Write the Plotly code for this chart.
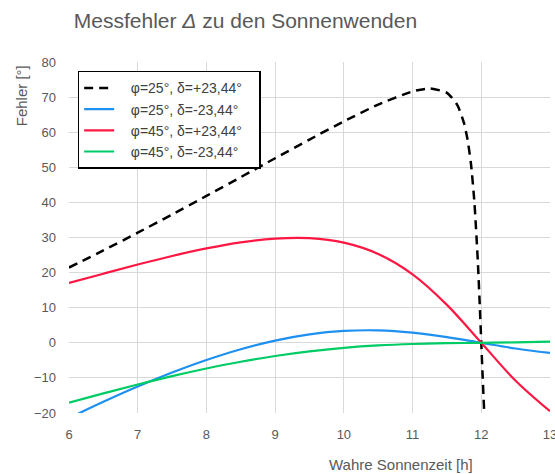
import plotly.graph_objects as go

# Time values [h]
t_main = [6, 6.5, 7, 7.5, 8, 8.5, 9, 9.5, 10, 10.5, 11, 11.5, 12, 12.5, 13]
t_dash = [6, 6.5, 7, 7.5, 8, 8.5, 9, 9.5, 10, 10.5, 11, 11.25, 11.5, 11.65, 11.75,
          11.8, 11.85, 11.9, 11.95, 11.98, 12, 12.02, 12.05]

# Series values [°]
phi25_dplus = [21.45, 26.31, 31.36, 36.55, 41.84, 47.20, 52.58, 57.91, 63.08, 67.87,
               71.62, 72.44, 71.21, 67.78, 62.49, 57.92, 50.96, 40.04, 23.07, 9.7,
               0, -9.7, -23.07]
phi25_dminus = [-21.45, -16.82, -12.47, -8.48, -4.90, -1.83, 0.63, 2.40, 3.38, 3.54,
                2.90, 1.63, 0, -1.63, -2.90]
phi45_dplus = [17.04, 19.69, 22.29, 24.73, 26.89, 28.62, 29.70, 29.82, 28.55, 25.32,
               19.51, 10.81, 0, -10.81, -19.51]
phi45_dminus = [-17.04, -14.42, -11.88, -9.49, -7.32, -5.39, -3.76, -2.44, -1.45, -0.76,
                -0.34, -0.12, 0, 0.12, 0.34]

names = ["φ=25°, δ=+23,44°", "φ=25°, δ=-23,44°", "φ=45°, δ=+23,44°", "φ=45°, δ=-23,44°"]
x_ticks = [6, 7, 8, 9, 10, 11, 12, 13]
y_ticks = [-20, -10, 0, 10, 20, 30, 40, 50, 60, 70, 80]

pad = "\u00a0\u00a0\u00a0"
fig = go.Figure()
fig.add_trace(go.Scatter(x=t_dash, y=phi25_dplus, mode="lines", name=pad + names[0] + pad,
                         line=dict(color="black", width=2.5, dash="9px,6px", shape="spline", smoothing=0.6)))
fig.add_trace(go.Scatter(x=t_main, y=phi25_dminus, mode="lines", name=pad + names[1] + pad,
                         line=dict(color="#1e90f0", width=2.2, shape="spline")))
fig.add_trace(go.Scatter(x=t_main, y=phi45_dplus, mode="lines", name=pad + names[2] + pad,
                         line=dict(color="#ff1744", width=2.2, shape="spline")))
fig.add_trace(go.Scatter(x=t_main, y=phi45_dminus, mode="lines", name=pad + names[3] + pad,
                         line=dict(color="#00cc66", width=2.2, shape="spline")))

grid = "#d9d9d9"
fig.update_layout(
    width=555, height=474,
    margin=dict(l=69, r=5, t=62, b=61),
    paper_bgcolor="white", plot_bgcolor="white",
    font=dict(family="Liberation Sans, Arial, sans-serif", color="#595959", size=13),
    title=dict(text="Messfehler <i>Δ</i> zu den Sonnenwenden", x=0.133, xanchor="left",
               y=0.957, yanchor="middle", font=dict(size=21, color="#595959")),
    showlegend=True,
    legend=dict(x=0.018, y=0.975, xanchor="left", yanchor="top",
                bordercolor="black", borderwidth=1.5, bgcolor="white",
                font=dict(size=14, color="#404040"), tracegroupgap=0),
    xaxis=dict(range=[6, 13], tickvals=x_ticks, showgrid=True, gridcolor=grid,
               zeroline=False, showline=False, ticks="", tickfont=dict(size=13),
               ticklabelstandoff=12, ticklabeloverflow="allow", automargin=False),
    yaxis=dict(range=[-20, 80], tickvals=y_ticks, showgrid=True, gridcolor=grid,
               zeroline=False, showline=False, ticks="", tickfont=dict(size=13),
               ticklabelstandoff=12, automargin=False),
    annotations=[
        dict(text="Fehler [°]", xref="paper", yref="paper", x=-0.1, y=0.905,
             xanchor="center", yanchor="middle", textangle=-90, showarrow=False,
             font=dict(size=15, color="#595959")),
        dict(text="Wahre Sonnenzeit [h]", xref="paper", yref="paper", x=0.69, y=-0.148,
             xanchor="center", yanchor="middle", showarrow=False,
             font=dict(size=15, color="#595959")),
    ],
)
fig.write_html("out.html")
